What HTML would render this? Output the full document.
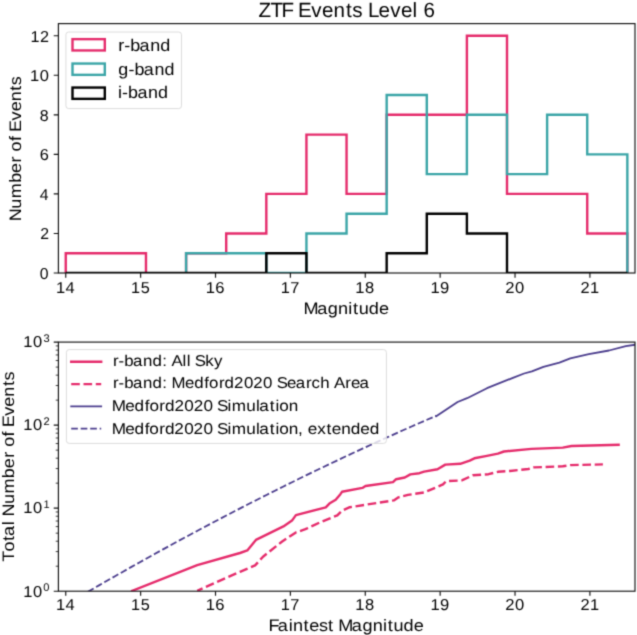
<!DOCTYPE html><html><head><meta charset="utf-8"><style>html,body{margin:0;padding:0;background:#fff;}svg{display:block;will-change:transform;}</style></head><body><svg width="637" height="635" viewBox="0 0 637 635" font-family="Liberation Sans, sans-serif" fill="#000" text-rendering="geometricPrecision"><defs><filter id="blr" x="0" y="0" width="637" height="635" filterUnits="userSpaceOnUse" color-interpolation-filters="sRGB"><feConvolveMatrix order="3" kernelMatrix="0.0277 0.1110 0.0277 0.1110 0.4452 0.1110 0.0277 0.1110 0.0277" edgeMode="duplicate"/></filter></defs><g filter="url(#blr)">
<rect width="637" height="635" fill="#fff"/>
<defs><clipPath id="ct"><rect x="58.4" y="23.6" width="576.6" height="249.4"/></clipPath>
<clipPath id="cb"><rect x="58.4" y="342.1" width="576.6" height="249.1"/></clipPath></defs>
<text x="258.539 270.601 281.566 293.267 298.101 311.285 321.97 333.587 345.902 352.294 362.154 367.879 378.461 390.226 400.911 412.618 417.491 423.585" y="16.6" font-size="20.6">ZTF Events Level 6</text>
<g clip-path="url(#ct)" fill="none" stroke-width="2.4" stroke-linejoin="miter" stroke-linecap="butt">
<path d="M65.75 273 V253.225 H105.864 V253.225 H145.979 V273 M186.093 273 V253.225 H226.207 V233.45 H266.321 V193.9 H306.436 V134.575 H346.55 V193.9 H386.664 V114.8 H426.779 V114.8 H466.893 V35.7 H507.007 V193.9 H547.121 V193.9 H587.236 V233.45 H627.35 V273" stroke="#e52b6b"/>
<path d="M65.75 273 V273 M105.864 273 V273 M145.979 273 V273 M186.093 273 V253.225 H226.207 V253.225 H266.321 V273 H306.436 V233.45 H346.55 V213.675 H386.664 V95.025 H426.779 V174.125 H466.893 V114.8 H507.007 V174.125 H547.121 V114.8 H587.236 V154.35 H627.35 V273" stroke="#3ba5a7"/>
<path d="M65.75 273 V273 H105.864 V273 H145.979 V273 H186.093 V273 H226.207 V273 H266.321 V253.225 H306.436 V273 H346.55 V273 H386.664 V253.225 H426.779 V213.675 H466.893 V233.45 H507.007 V273 H547.121 V273 H587.236 V273 H627.35 V273" stroke="#000"/>
</g>
<rect x="58.4" y="23.6" width="576.6" height="249.4" fill="none" stroke="#111" stroke-width="1.15"/>
<path d="M65.75 273 V277.67 M140.63 273 V277.67 M215.51 273 V277.67 M290.39 273 V277.67 M365.27 273 V277.67 M440.15 273 V277.67 M515.03 273 V277.67 M589.91 273 V277.67 M58.4 273 H53.73 M58.4 233.45 H53.73 M58.4 193.9 H53.73 M58.4 154.35 H53.73 M58.4 114.8 H53.73 M58.4 75.25 H53.73 M58.4 35.7 H53.73" stroke="#111" stroke-width="1.15" fill="none"/>
<text x="53.579 62.813" y="292.6" font-size="15.8" transform="scale(1.043 1)">14</text>
<text x="127.671 136.993" y="292.6" font-size="15.8" transform="scale(1.027 1)">15</text>
<text x="195.474 204.63" y="292.6" font-size="15.8" transform="scale(1.052 1)">16</text>
<text x="270.689 279.946" y="292.6" font-size="15.8" transform="scale(1.037 1)">17</text>
<text x="339.699 348.905" y="292.6" font-size="15.8" transform="scale(1.046 1)">18</text>
<text x="410.37 419.512" y="292.6" font-size="15.8" transform="scale(1.049 1)">19</text>
<text x="480.713 489.978" y="292.6" font-size="15.8" transform="scale(1.051 1)">20</text>
<text x="559.695 569.001" y="292.6" font-size="15.8" transform="scale(1.037 1)">21</text>
<text x="39.793" y="278.8" font-size="15.8">0</text>
<text x="40.135" y="239.25" font-size="15.8">2</text>
<text x="39.633" y="199.7" font-size="15.8">4</text>
<text x="38.25" y="160.15" font-size="15.8" transform="scale(1.036 1)">6</text>
<text x="39.349" y="120.6" font-size="15.8" transform="scale(1.012 1)">8</text>
<text x="28.744 37.974" y="81.05" font-size="15.8" transform="scale(1.044 1)">10</text>
<text x="29.908 39.125" y="41.5" font-size="15.8" transform="scale(1.023 1)">12</text>
<text x="277.908 290.437 300.082 309.483 318.911 323.307 328.527 337.778 347.043" y="313.7" font-size="16.6" transform="scale(1.092 1)">Magnitude</text>
<g transform="translate(20.8 148.3) rotate(-90)"><text x="-67.368 -55.804 -46.148 -31.918 -22.73 -13.065 -7.521 -2.913 6.698 11.425 15.186 25.687 34.172 43.404 53.221 58.277" y="0" font-size="16.6" transform="scale(1.082 1)">Number of Events</text></g>
<rect x="65.9" y="32" width="115.6" height="76.6" rx="2.8" fill="#fff" fill-opacity="0.8" stroke="#dcdcdc" stroke-width="1"/>
<rect x="72.5" y="39.15" width="32.3" height="11.3" fill="none" stroke="#e52b6b" stroke-width="2.4"/>
<text x="111.024 116.558 122.228 130.922 140.902 150.315" y="51" font-size="16.9" transform="scale(1.066 1)">r-band</text>
<rect x="72.5" y="63.55" width="32.3" height="11.3" fill="none" stroke="#3ba5a7" stroke-width="2.4"/>
<text x="111.679 121.161 126.875 135.62 145.655 155.122" y="74.7" font-size="16.9" transform="scale(1.06 1)">g-band</text>
<rect x="72.5" y="87.55" width="32.3" height="11.3" fill="none" stroke="#000" stroke-width="2.4"/>
<text x="111.087 114.956 120.656 129.384 139.4 148.849" y="98.4" font-size="16.9" transform="scale(1.062 1)">i-band</text>
<g clip-path="url(#cb)" fill="none" stroke-linejoin="round">
<path d="M132.2 590.8 L197.2 565.2 L240 553 L247.3 550.4 L255.9 539.9 L283.4 526.4 L292 520.6 L295.9 515.1 L325.8 507.3 L329.4 503.6 L335.7 499.7 L340.4 494.2 L342 491.8 L362.4 487.9 L365.5 486 L393 482.1 L396.1 479.2 L404.8 477.5 L410.3 474.4 L419.4 473.2 L424.1 471.6 L437.5 469.3 L445.3 464.6 L460.2 463.8 L469.7 460.6 L474.4 458.3 L486.9 455.9 L497.9 453.6 L503.9 451.5 L531.4 448.9 L562.8 447.6 L571.5 446 L618.6 444.8" stroke="#e52b6b" stroke-width="2.4" stroke-linecap="square"/>
<path d="M197.2 590.8 L240 571.8 L255.1 565.4 L263 556.7 L281.8 541.8 L295.9 532.4 L305.4 529.2 L320 522.4 L337.3 515.4 L342 510.6 L349.8 507.2 L393.8 500.4 L398.5 497.3 L407.9 494.9 L424.1 492.5 L443 484.4 L446.1 481.2 L461.8 480.4 L472.8 475.3 L488.5 474.2 L497.9 471.8 L510 471 L528.3 469 L533.8 467.4 L562.8 466.3 L570.6 465.1 L602.9 464.4" stroke="#e52b6b" stroke-width="2.4" stroke-dasharray="8.6 3.7" stroke-dashoffset="2.753"/>
<path d="M436.2 416.2 L457.6 402 L467.1 398.2 L487 388.2 L512.9 377.8 L524.1 373.5 L531.9 371.4 L543.4 366.8 L559.4 362.6 L570.3 358.4 L588.8 354.2 L609 350.5 L625.8 346.1 L645 343.3" stroke="#4b3d8d" stroke-width="1.8" stroke-linecap="square"/>
<path d="M75 599.331 L83 594.651 L91 589.999 L99 585.374 L107 580.778 L115 576.209 L123 571.668 L131 567.155 L139 562.67 L147 558.212 L155 553.783 L163 549.381 L171 545.007 L179 540.661 L187 536.343 L195 532.052 L203 527.79 L211 523.555 L219 519.348 L227 515.169 L235 511.018 L243 506.895 L251 502.799 L259 498.732 L267 494.692 L275 490.68 L283 486.696 L291 482.74 L299 478.811 L307 474.911 L315 471.038 L323 467.193 L331 463.376 L339 459.587 L347 455.826 L355 452.092 L363 448.387 L371 444.709 L379 441.059 L387 437.437 L395 433.843 L403 430.276 L411 426.738 L419 423.227 L427 419.744 L435 416.289 L436.2 415.773" stroke="#4b3d8d" stroke-width="1.8" stroke-dasharray="6.65 2.85" stroke-dashoffset="4.131"/>
</g>
<rect x="58.4" y="342.1" width="576.6" height="249.1" fill="none" stroke="#111" stroke-width="1.15"/>
<path d="M65.75 591.2 V595.87 M140.63 591.2 V595.87 M215.51 591.2 V595.87 M290.39 591.2 V595.87 M365.27 591.2 V595.87 M440.15 591.2 V595.87 M515.03 591.2 V595.87 M589.91 591.2 V595.87 M58.4 591.2 H53.73 M58.4 508.167 H53.73 M58.4 425.133 H53.73 M58.4 342.1 H53.73" stroke="#111" stroke-width="1.15" fill="none"/>
<path d="M58.4 566.204 H55.73 M58.4 551.583 H55.73 M58.4 541.209 H55.73 M58.4 533.162 H55.73 M58.4 526.588 H55.73 M58.4 521.029 H55.73 M58.4 516.213 H55.73 M58.4 511.966 H55.73 M58.4 483.171 H55.73 M58.4 468.55 H55.73 M58.4 458.176 H55.73 M58.4 450.129 H55.73 M58.4 443.554 H55.73 M58.4 437.995 H55.73 M58.4 433.18 H55.73 M58.4 428.933 H55.73 M58.4 400.138 H55.73 M58.4 385.516 H55.73 M58.4 375.142 H55.73 M58.4 367.096 H55.73 M58.4 360.521 H55.73 M58.4 354.962 H55.73 M58.4 350.147 H55.73 M58.4 345.899 H55.73" stroke="#111" stroke-width="0.8" fill="none"/>
<text x="53.579 62.813" y="610.3" font-size="15.8" transform="scale(1.043 1)">14</text>
<text x="127.671 136.993" y="610.3" font-size="15.8" transform="scale(1.027 1)">15</text>
<text x="195.474 204.63" y="610.3" font-size="15.8" transform="scale(1.052 1)">16</text>
<text x="270.689 279.946" y="610.3" font-size="15.8" transform="scale(1.037 1)">17</text>
<text x="339.699 348.905" y="610.3" font-size="15.8" transform="scale(1.046 1)">18</text>
<text x="410.37 419.512" y="610.3" font-size="15.8" transform="scale(1.049 1)">19</text>
<text x="480.713 489.978" y="610.3" font-size="15.8" transform="scale(1.051 1)">20</text>
<text x="559.695 569.001" y="610.3" font-size="15.8" transform="scale(1.037 1)">21</text>
<text x="22.366 31.596" y="596.5" font-size="15.8" transform="scale(1.044 1)">10</text>
<text x="43.244" y="590.7" font-size="11.06">0</text>
<text x="22.366 31.596" y="513.467" font-size="15.8" transform="scale(1.044 1)">10</text>
<text x="43.494" y="507.667" font-size="11.06">1</text>
<text x="22.366 31.596" y="430.433" font-size="15.8" transform="scale(1.044 1)">10</text>
<text x="43.494" y="424.633" font-size="11.06">2</text>
<text x="22.366 31.596" y="347.4" font-size="15.8" transform="scale(1.044 1)">10</text>
<text x="43.437" y="341.6" font-size="11.06">3</text>
<text x="246.053 254.694 264.582 268.517 278.275 283.425 292.3 300.687 305.911 309.988 322.524 332.174 341.581 351.014 355.413 360.637 369.895 379.165" y="630.8" font-size="16.6" transform="scale(1.091 1)">Faintest Magnitude</text>
<g transform="translate(13.6 467) rotate(-90)"><text x="-87.227 -77.775 -68.123 -63.573 -53.667 -49.778 -45.591 -34.069 -24.463 -10.283 -1.132 8.499 14.034 18.603 28.183 32.901 36.622 47.087 55.535 64.728 74.515 79.543" y="0" font-size="16.6" transform="scale(1.087 1)">Total Number of Events</text></g>
<rect x="66.4" y="349.6" width="320" height="93.8" rx="2.8" fill="#fff" fill-opacity="0.8" stroke="#dcdcdc" stroke-width="1"/>
<path d="M71.2 361.8 H101.2" stroke="#e52b6b" stroke-width="2.4" stroke-linecap="square"/>
<path d="M71.2 384.1 H101.2" stroke="#e52b6b" stroke-width="2.4" stroke-dasharray="8.6 3.7"/>
<path d="M71.2 406.4 H101.2" stroke="#4b3d8d" stroke-width="1.8" stroke-linecap="square"/>
<path d="M71.2 428.7 H101.2" stroke="#4b3d8d" stroke-width="1.8" stroke-dasharray="6.65 2.85"/>
<text x="104.524 109.67 114.96 123.05 132.332 141.089 150.124 154.64 158.652 168.843 172.724 176.398 180.144 189.926 198.024" y="366.2" font-size="15.6" transform="scale(1.081 1)">r-band: All Sky</text>
<text x="104.708 109.862 115.165 123.269 132.566 141.338 150.384 154.905 158.895 171.421 180.063 189.384 193.788 202.929 208.185 216.963 226.05 234.768 243.855 252.648 256.409 265.972 273.989 283.686 288.686 296.709 305.475 309.502 320.02 325.242 333.258" y="388.4" font-size="15.6" transform="scale(1.079 1)">r-band: Medford2020 Search Area</text>
<text x="101.738 114.086 122.583 131.777 136.07 145.078 150.223 158.849 167.78 176.349 185.28 193.996 197.605 207.283 211.157 224.308 233.21 236.187 245.77 250.859 254.367 262.958" y="410.9" font-size="15.6" transform="scale(1.098 1)">Medford2020 Simulation</text>
<text x="101.338 113.649 122.115 131.281 135.552 144.531 149.653 158.246 167.144 175.681 184.58 193.28 196.856 206.511 210.353 223.463 232.342 235.297 244.854 249.926 253.412 261.971 270.493 274.978 279.239 287.888 296.351 301.151 309.708 318.301 326.963 335.429" y="434" font-size="15.6" transform="scale(1.102 1)">Medford2020 Simulation, extended</text>
</g></svg></body></html>
